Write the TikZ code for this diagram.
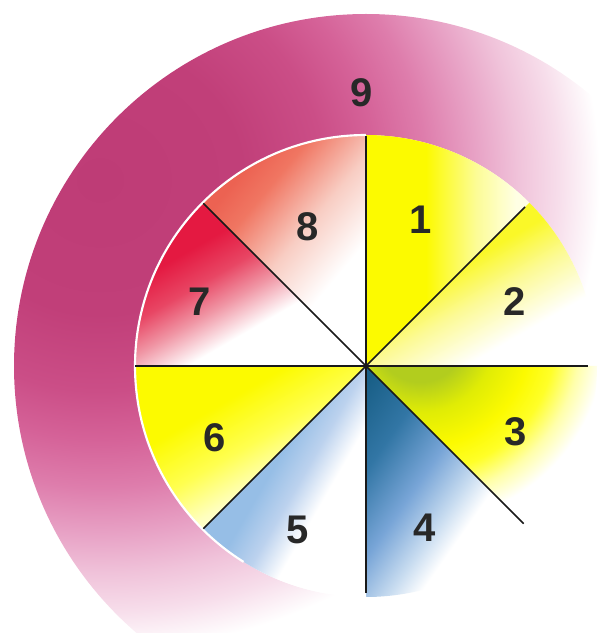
\documentclass[tikz,border=0pt]{standalone}
\usepackage{fontspec}
\setsansfont{Liberation Sans}
\definecolor{rg0}{RGB}{190,60,118}
\definecolor{rg6}{RGB}{193,63,121}
\definecolor{rg5}{RGB}{203,78,135}
\definecolor{rg4}{RGB}{213,98,152}
\definecolor{rg3}{RGB}{222,125,172}
\definecolor{rg2}{RGB}{232,163,198}
\definecolor{rg1}{RGB}{240,195,218}
\definecolor{rgz}{RGB}{247,222,235}
\definecolor{s8a}{RGB}{248,205,195}
\definecolor{s8b}{RGB}{240,118,98}
\definecolor{s8c}{RGB}{236,98,82}
\definecolor{s7a}{RGB}{240,150,165}
\definecolor{s7m}{RGB}{232,70,100}
\definecolor{s7b}{RGB}{228,25,65}
\definecolor{yel}{RGB}{252,250,0}
\definecolor{y1a}{RGB}{255,255,228}
\definecolor{y1b}{RGB}{252,252,150}
\definecolor{y2a}{RGB}{252,250,150}
\definecolor{y2b}{RGB}{250,248,40}
\definecolor{g3a}{RGB}{178,205,30}
\definecolor{g3b}{RGB}{224,236,5}
\definecolor{g3c}{RGB}{255,255,40}
\definecolor{g3d}{RGB}{255,255,170}
\definecolor{b4a}{RGB}{25,95,135}
\definecolor{b4b}{RGB}{50,118,165}
\definecolor{b4c}{RGB}{120,165,215}
\definecolor{b4d}{RGB}{200,220,240}
\definecolor{b5a}{RGB}{150,190,230}
\definecolor{b5b}{RGB}{188,210,238}
\definecolor{y6a}{RGB}{255,255,80}
\definecolor{y6b}{RGB}{255,255,190}
\definecolor{y6c}{RGB}{255,255,235}
\definecolor{ink}{RGB}{40,40,40}
\definecolor{spokec}{RGB}{25,25,25}
\pgfdeclareradialshading{ringsh}{\pgfpointorigin}{color(0bp)=(rg0); color(7bp)=(rg6); color(11bp)=(rg5); color(13.5bp)=(rg4); color(16bp)=(rg3); color(18.5bp)=(rg2); color(20.5bp)=(rg1); color(22.5bp)=(rgz); color(24.5bp)=(white); color(50bp)=(white)}
\pgfdeclareverticalshading{shA}{100bp}{color(0bp)=(white); color(55.56bp)=(white); color(59.38bp)=(s8a); color(63.19bp)=(s8b); color(65.28bp)=(s8c); color(100bp)=(s8c)}
\pgfdeclareverticalshading{shB}{100bp}{color(0bp)=(white); color(56.25bp)=(white); color(58.68bp)=(s7a); color(60.76bp)=(s7m); color(63.19bp)=(s7b); color(100bp)=(s7b)}
\pgfdeclareverticalshading{shC}{100bp}{color(0bp)=(y1a); color(39.58bp)=(y1a); color(42.36bp)=(y1b); color(45.83bp)=(yel); color(100bp)=(yel)}
\pgfdeclareverticalshading{shD}{100bp}{color(0bp)=(white); color(46.53bp)=(white); color(50bp)=(y2a); color(52.78bp)=(y2b); color(100bp)=(y2b)}
\pgfdeclareradialshading{shE}{\pgfpointorigin}{color(0bp)=(g3a); color(4.5bp)=(g3a); color(7.5bp)=(g3b); color(11bp)=(yel); color(13.5bp)=(g3c); color(16bp)=(g3d); color(18.5bp)=(white); color(50bp)=(white)}
\pgfdeclareverticalshading{shF}{100bp}{color(0bp)=(b4a); color(50.69bp)=(b4a); color(54.17bp)=(b4b); color(57.64bp)=(b4c); color(60.42bp)=(b4d); color(62.15bp)=(white); color(100bp)=(white)}
\pgfdeclareverticalshading{shG}{100bp}{color(0bp)=(b5a); color(47.92bp)=(b5a); color(50bp)=(b5b); color(52.08bp)=(white); color(100bp)=(white)}
\pgfdeclareverticalshading{shH}{100bp}{color(0bp)=(yel); color(47.22bp)=(yel); color(50.69bp)=(y6a); color(53.47bp)=(y6b); color(55.56bp)=(y6c); color(100bp)=(y6c)}
\begin{document}
\begin{tikzpicture}[x=0.75pt,y=0.75pt,
  spoke/.style={draw=spokec,line width=1.1pt},
  num/.style={font=\sffamily\bfseries\fontsize{30}{32}\selectfont,text=ink,inner sep=0pt}]
\useasboundingbox (0,0) rectangle (601,633);
\clip (0,0) rectangle (601,633);
\coordinate (C) at (366,267);
\coordinate (RP) at (100,453);
\coordinate (GP) at (420,296);
% outer ring
\begin{scope}[even odd rule]
\clip (C) circle[radius=352] (C) circle[radius=231];
\shade[shading=ringsh] ([shift={(-510,-480)}]RP) rectangle ([shift={(510,480)}]RP);
\end{scope}
% sectors: start angle, end angle, shading, shading angle
\foreach \sa/\ea/\sh/\ang in {90/135/shA/50, 135/180/shB/30, 45/90/shC/90, 0/45/shD/30, -90/-45/shF/-125, -135/-90/shG/-120, 180/225/shH/-150}{
  \begin{scope}
  \clip (C) -- ([shift={(C)}]\sa:231) arc[start angle=\sa,end angle=\ea,radius=231] -- cycle;
  \shade[shading=\sh,shading angle=\ang] ([shift={(-360,-360)}]C) rectangle ([shift={(360,360)}]C);
  \end{scope}
}
\begin{scope}
\clip (C) -- ([shift={(C)}]-45:231) arc[start angle=-45,end angle=0,radius=231] -- cycle;
\shade[shading=shE] ([shift={(-250,-250)}]GP) rectangle ([shift={(250,250)}]GP);
\end{scope}
% white rim
\draw[white,line width=1.6pt] ([shift={(C)}]90:231) arc[start angle=90,end angle=238,radius=231];
% spokes
\coordinate (e0) at ([shift={(C)}]0:222);
\coordinate (e45) at ([shift={(C)}]45:225);
\coordinate (e90) at ([shift={(C)}]90:230);
\coordinate (e135) at ([shift={(C)}]135:230);
\coordinate (e180) at ([shift={(C)}]180:231);
\coordinate (e225) at ([shift={(C)}]225:230);
\coordinate (e270) at ([shift={(C)}]270:227);
\coordinate (e315) at ([shift={(C)}]315:223);
\foreach \e in {e0,e45,e90,e135,e180,e225,e270,e315}{\draw[spoke] (C) -- (\e);}
% labels
\node[num] (n9) at (362,540) {9};
\node[num] (n8) at (308,406) {8};
\node[num] (n7) at (200,331) {7};
\node[num] (n1) at (421,413) {1};
\node[num] (n2) at (515,331) {2};
\node[num] (n6) at (215,195) {6};
\node[num] (n5) at (298,103) {5};
\node[num] (n3) at (516,201) {3};
\node[num] (n4) at (425,105) {4};
\end{tikzpicture}
\end{document}
